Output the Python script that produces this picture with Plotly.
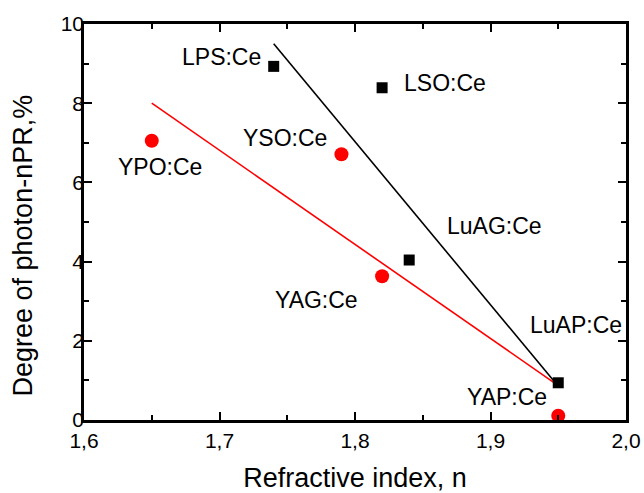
import plotly.graph_objects as go

# Lu-based scintillators (black squares)
lu_names = ["LPS:Ce", "LSO:Ce", "LuAG:Ce", "LuAP:Ce"]
lu_n = [1.74, 1.82, 1.84, 1.95]
lu_deg = [8.93, 8.39, 4.04, 0.94]

# Y-based scintillators (red circles)
y_names = ["YPO:Ce", "YSO:Ce", "YAG:Ce", "YAP:Ce"]
y_n = [1.65, 1.79, 1.82, 1.95]
y_deg = [7.05, 6.71, 3.63, 0.11]

# Linear trend endpoints
lu_fit_n = [1.74, 1.95]
lu_fit_deg = [9.5, 0.85]
y_fit_n = [1.65, 1.95]
y_fit_deg = [8.0, 0.87]

# Label anchors (x, y, horizontal anchor)
label_pos = {
    "LPS:Ce": (1.732, 9.17, "right"),
    "LSO:Ce": (1.8345, 8.51, "left"),
    "LuAG:Ce": (1.8664, 4.90, "left"),
    "LuAP:Ce": (1.9277, 2.40, "left"),
    "YPO:Ce": (1.6234, 6.40, "left"),
    "YSO:Ce": (1.781, 7.12, "right"),
    "YAG:Ce": (1.7395, 3.03, "left"),
    "YAP:Ce": (1.8812, 0.59, "left"),
}

FONT = "Liberation Sans, Arial, sans-serif"

fig = go.Figure()
fig.add_trace(go.Scatter(x=lu_fit_n, y=lu_fit_deg, mode="lines",
                         line=dict(color="black", width=1.6), showlegend=False))
fig.add_trace(go.Scatter(x=y_fit_n, y=y_fit_deg, mode="lines",
                         line=dict(color="#ff0000", width=1.6), showlegend=False))
fig.add_trace(go.Scatter(x=lu_n, y=lu_deg, mode="markers",
                         marker=dict(symbol="square", size=11, color="black"),
                         showlegend=False))
fig.add_trace(go.Scatter(x=y_n, y=y_deg, mode="markers",
                         marker=dict(symbol="circle", size=14, color="#ff0000"),
                         showlegend=False))

for name in lu_names + y_names:
    x, y, anchor = label_pos[name]
    fig.add_annotation(x=x, y=y, text=name, showarrow=False, xanchor=anchor,
                       yanchor="middle", font=dict(family=FONT, size=23, color="black"))

# Vertical axis title, set slightly below the axis centre
fig.add_annotation(xref="paper", yref="paper", x=-0.113, y=0.44,
                   text="Degree of photon-nPR,%", textangle=-90, showarrow=False,
                   xanchor="center", yanchor="middle",
                   font=dict(family=FONT, size=27, color="black"))

axis_common = dict(
    showline=True, linecolor="black", linewidth=2.5, mirror="allticks",
    ticks="inside", ticklen=8, tickwidth=2, tickcolor="black",
    showgrid=False, zeroline=False, automargin=False,
    tickfont=dict(family=FONT, size=21, color="black"),
)

fig.update_xaxes(range=[1.6, 2.0], tickvals=[1.6, 1.7, 1.8, 1.9, 2.0],
                 ticktext=["1,6", "1,7", "1,8", "1,9", "2,0"],
                 minor=dict(tickvals=[1.65, 1.75, 1.85, 1.95], ticks="inside",
                            ticklen=5, tickwidth=2, tickcolor="black"),
                 title=dict(text="Refractive index, n", standoff=18,
                            font=dict(family=FONT, size=27, color="black")),
                 **axis_common)
fig.update_yaxes(range=[0, 10], tickvals=[0, 2, 4, 6, 8, 10],
                 minor=dict(tickvals=[1, 3, 5, 7, 9], ticks="inside",
                            ticklen=5, tickwidth=2, tickcolor="black"),
                 ticklabelstandoff=-7,
                 **axis_common)

fig.update_layout(width=644, height=493, margin=dict(l=84, r=18, t=24, b=73),
                  plot_bgcolor="white", paper_bgcolor="white")

fig.write_html("out.html")
